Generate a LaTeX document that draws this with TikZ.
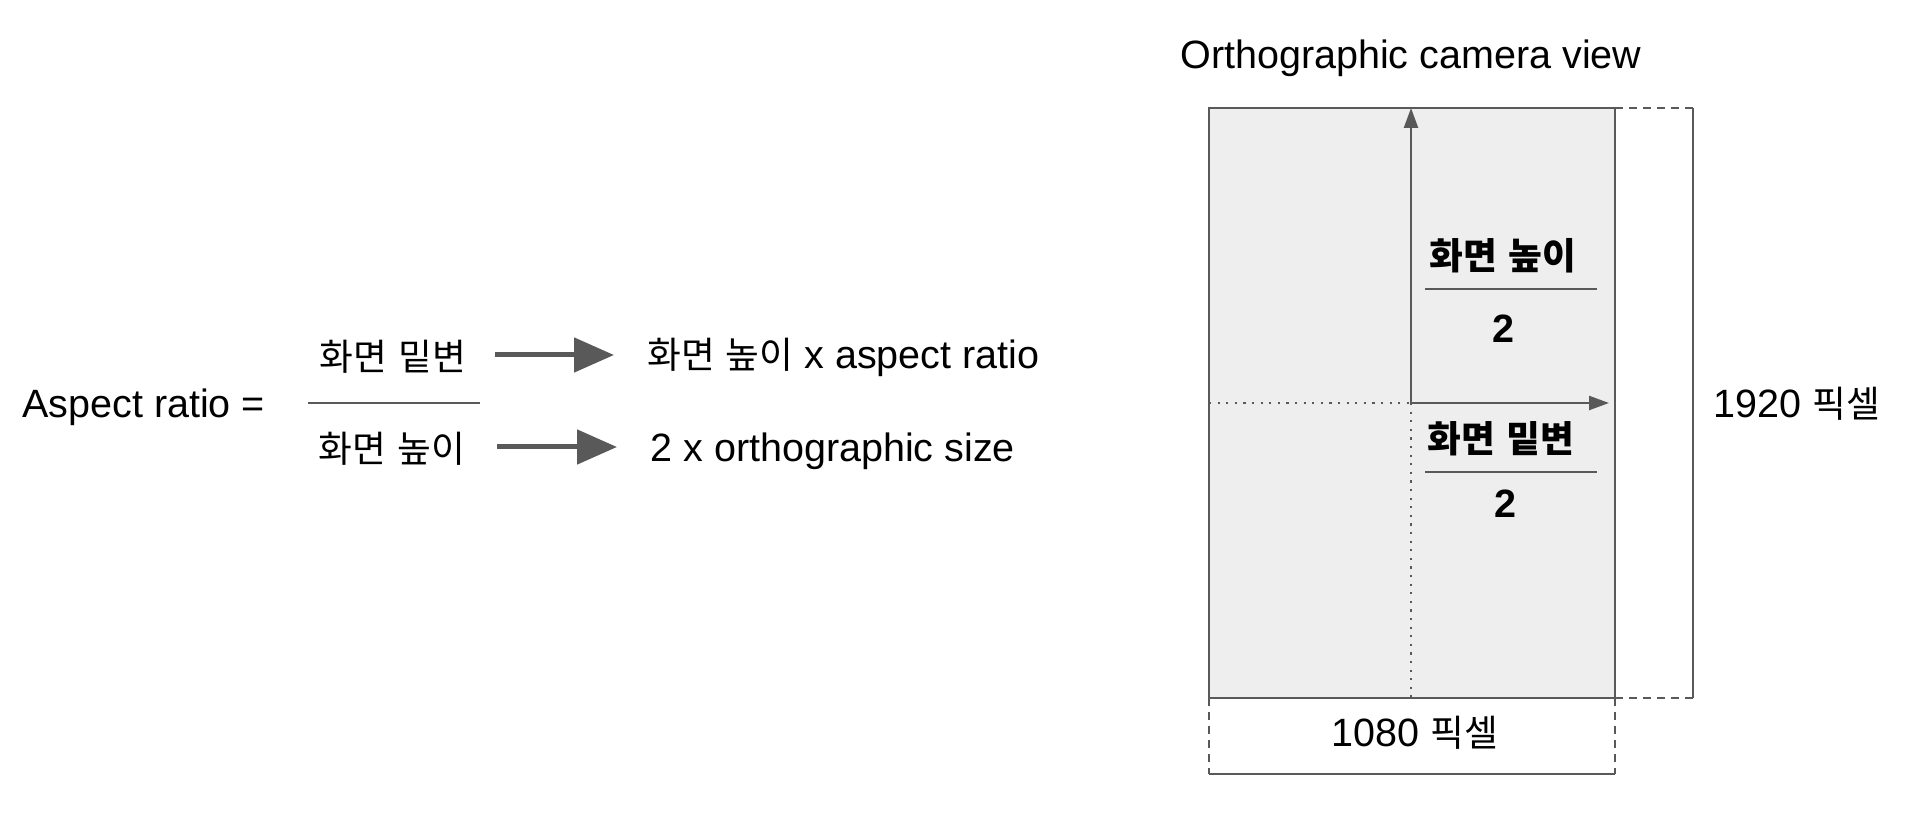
\documentclass[tikz,border=0pt]{standalone}
\usepackage{fontspec}
\setmainfont{Liberation Sans}
\newfontfamily\krfont[Scale=0.93]{Noto Sans CJK KR}
\newcommand\K[1]{{\krfont #1}}
\usetikzlibrary{arrows.meta}
\definecolor{lc}{HTML}{595959}
\definecolor{boxfill}{HTML}{EEEEEE}
\tikzset{
  txt/.style={inner sep=0pt, font=\fontsize{19.75}{23}\selectfont},
  btxt/.style={inner sep=0pt, font=\fontsize{19.75}{23}\selectfont\bfseries},
  bigarrow/.style={draw=lc, line width=2.5pt, -{Triangle[length=20pt,width=17pt]}},
  axisarrow/.style={draw=lc, line width=1.2pt, -{Triangle[length=10pt,width=7pt]}},
  dotline/.style={draw=lc, line width=1.2pt, dash pattern=on 1.1pt off 3.2pt},
  dimdash/.style={draw=lc, line width=1.1pt, dash pattern=on 4pt off 3pt},
  dimline/.style={draw=lc, line width=1.2pt},
  fracline/.style={draw=lc, line width=1pt},
  box/.style={draw=lc, fill=boxfill, line width=1.2pt}
}
\begin{document}
\begin{tikzpicture}[x=0.5pt,y=-0.5pt]
\useasboundingbox (0,0) rectangle (1926,822);
% left formula
\node[txt, anchor=west] (asp) at (22,407) {Aspect ratio =};
\node[txt] (num) at (393,357) {\K{화면} \K{밑변}};
\node[txt] (den) at (392,449) {\K{화면} \K{높이}};
\coordinate (fl1) at (308,403);
\coordinate (fl2) at (480,403);
\draw[fracline] (fl1) -- (fl2);
\coordinate (a1s) at (495,355);
\coordinate (a1e) at (614,355);
\coordinate (a2s) at (497,447);
\coordinate (a2e) at (617,447);
\draw[bigarrow] (a1s) -- (a1e);
\draw[bigarrow] (a2s) -- (a2e);
\node[txt, anchor=west] (res1) at (647,357) {\K{화면} \K{높이} x aspect ratio};
\node[txt, anchor=west] (res2) at (650,451) {2 x orthographic size};
% right diagram
\node[txt, anchor=west] (title) at (1180,58) {Orthographic camera view};
\coordinate (tl) at (1209,108);
\coordinate (br) at (1615,698);
\coordinate (tr) at (1615,108);
\coordinate (bl) at (1209,698);
\draw[box] (tl) rectangle (br);
\coordinate (c) at (1411,403);
\coordinate (ctop) at (1411,108);
\coordinate (cbot) at (1411,698);
\coordinate (cleft) at (1209,403);
\coordinate (cright) at (1609,403);
\draw[dotline] (c) -- (cbot);
\draw[dotline] (cleft) -- (c);
\draw[axisarrow] (c) -- (ctop);
\draw[axisarrow] (c) -- (cright);
\node[btxt] (hnum) at (1503,256) {\K{화면} \K{높이}};
\coordinate (hl1) at (1425,289);
\coordinate (hl2) at (1597,289);
\draw[fracline] (hl1) -- (hl2);
\node[btxt] (hden) at (1503,329) {2};
\node[btxt] (wnum) at (1501,439) {\K{화면} \K{밑변}};
\coordinate (wl1) at (1425,472);
\coordinate (wl2) at (1597,472);
\draw[fracline] (wl1) -- (wl2);
\node[btxt] (wden) at (1505,504) {2};
% height dimension
\coordinate (rt) at (1693,108);
\coordinate (rb) at (1693,698);
\draw[dimdash] (tr) -- (rt);
\draw[dimdash] (br) -- (rb);
\draw[dimline] (rt) -- (rb);
\node[txt] (hdim) at (1797,404) {1920 \K{픽셀}};
% width dimension
\coordinate (bbl) at (1209,774);
\coordinate (bbr) at (1615,774);
\draw[dimdash] (bl) -- (bbl);
\draw[dimdash] (br) -- (bbr);
\draw[dimline] (bbl) -- (bbr);
\node[txt] (wdim) at (1415,733) {1080 \K{픽셀}};
\end{tikzpicture}
\end{document}
